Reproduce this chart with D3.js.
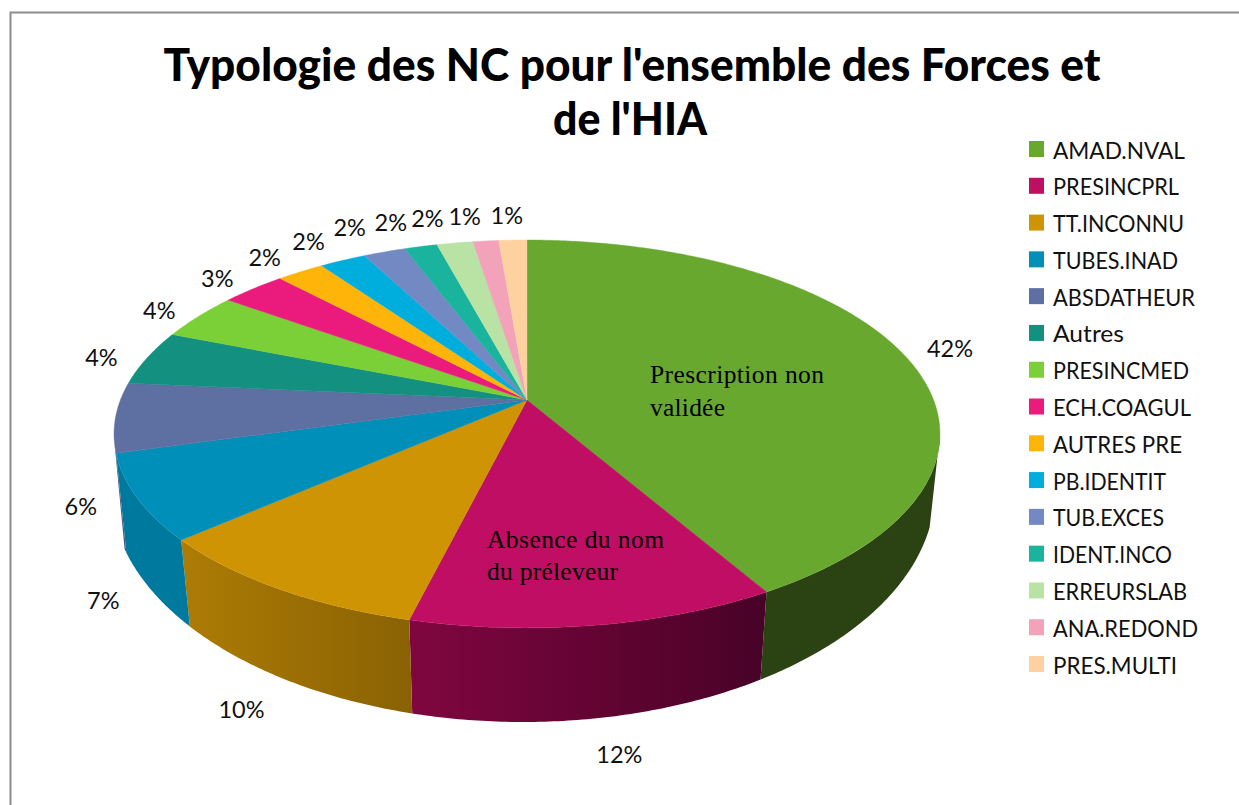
<!DOCTYPE html>
<html><head><meta charset="utf-8">
<script src="https://cdnjs.cloudflare.com/ajax/libs/d3/7.8.5/d3.min.js"></script>
<style>html,body{margin:0;padding:0;background:#fff;overflow:hidden}svg{display:block}</style>
</head><body><svg id="c" width="1239" height="805"></svg>
<script>
// ---- data ----
const categories = ["AMAD.NVAL","PRESINCPRL","TT.INCONNU","TUBES.INAD","ABSDATHEUR","Autres","PRESINCMED","ECH.COAGUL","AUTRES PRE","PB.IDENTIT","TUB.EXCES","IDENT.INCO","ERREURSLAB","ANA.REDOND","PRES.MULTI"];
const values = [41.7,12.2,9.7,7.1,5.8,4.6,3.92,3.03,2.22,2.16,1.95,1.52,1.67,1.2,1.3];
const percentLabels = ["42%","12%","10%","7%","6%","4%","4%","3%","2%","2%","2%","2%","2%","1%","1%"];
const topColors = ["#69a82f","#c00e64","#cf9404","#008fb8","#5e6fa1","#139080","#7cd037","#ea1b7d","#ffb40a","#00aedd","#7289c4","#1ab39d","#b9e3a5","#f2a3ba","#fdd1a0"];
const wallLeft  = ["#2b4212","#80063f","#ad7c05","#00799f","#4a5880","#0e7064","#629f2a","#b81562","#c98d08","#0088ae","#5a6c9a","#148d7b","#91b382","#bf8093","#c7a47e"];
const wallRight = ["#2b4212","#480228","#8a6204","#00799f","#4a5880","#0e7064","#629f2a","#b81562","#c98d08","#0088ae","#5a6c9a","#148d7b","#91b382","#bf8093","#c7a47e"];
const titleLines = ["Typologie des NC pour l'ensemble des Forces et","de l'HIA"];
const annotations = [["Prescription non","validée"],["Absence du nom","du préleveur"]];

// ---- layout ----
const W = 1239, H = 805;
const persp = 0.175;
const xScale = d3.scaleLinear().domain([-1,1]).range([527-406.6,527+406.6]);
const yScale = d3.scaleLinear().domain([-1,1]).range([400-188,400+188]);
const baseX = d3.scaleLinear().domain([-412,412]).range([523-412,523+412]);
const wallDepth = 92;
const bottomFold = 0.975;
const bottomCY = 490, bottomRY = 232, bottomRX = 412, bottomCX = 523;
const wallFrom = 100*Math.PI/180, wallTo = 258*Math.PI/180;
const labelNudge = [[15,-1],[16,12],[-10,8],[5,1],[3,-5],[-13,3],[-12,0],[-14,-2],[-18,-5],[-20,-9],[-24,-14],[-22,-13],[-22,-13],[-18,-13],[-5,-13]];
const labelInFront = [false,true,true,true,true,false,false,false,false,false,false,false,false,false,false];
const legendWidths = [132,126,131,125,142,71,136,138,129,113,111,119,134,145,124];
const legendRows = d3.scaleLinear().domain([0,14]).range([150,665]);

function topPt(theta, r=1){
  const u = r*Math.sin(theta), v = -r*Math.cos(theta), den = 1-persp*v;
  return [xScale(u/den), yScale(v/den)];
}
function bottomPt(theta){
  const t = topPt(theta);
  const x = 527 + bottomFold*(t[0]-527);
  const dx = (x-bottomCX)/bottomRX;
  const s = Math.sqrt(Math.max(0,1-dx*dx));
  const v = -Math.cos(theta);
  const y = bottomCY + (v>=0 ? s : -s)*bottomRY;
  return [baseX(x-bottomCX), y];
}
const line = d3.line();
function arcPts(fn,a,b){
  const n = Math.max(2,Math.ceil(Math.abs(b-a)/0.01));
  return d3.range(n+1).map(i=>fn(a+(b-a)*i/n));
}

const svg = d3.select("#c");
svg.append("rect").attr("width",W).attr("height",H).attr("fill","#fff");
svg.append("rect").attr("x",10.5).attr("y",12.5).attr("width",W+40).attr("height",H+40)
   .attr("fill","#fff").attr("stroke","#8c8c8c").attr("stroke-width",2);

const pie = d3.pie().sort(null).value(d=>d)(values);
const defs = svg.append("defs");

// walls
const gWalls = svg.append("g");
pie.forEach((p,i)=>{
  const a = Math.max(p.startAngle,wallFrom), b = Math.min(p.endAngle,wallTo);
  if(b<=a) return;
  const tp = arcPts(topPt,a,b), bt = arcPts(bottomPt,a,b).reverse();
  const xs = tp.map(d=>d[0]);
  const id = "wall"+i;
  const gr = defs.append("linearGradient").attr("id",id).attr("gradientUnits","userSpaceOnUse")
    .attr("x1",d3.min(xs)).attr("x2",d3.max(xs)).attr("y1",0).attr("y2",0);
  gr.append("stop").attr("offset",0).attr("stop-color",wallLeft[i]);
  gr.append("stop").attr("offset",1).attr("stop-color",wallRight[i]);
  gWalls.append("path").attr("d",line(tp.concat(bt))+"Z").attr("fill",`url(#${id})`);
});

// top slices
const apex = topPt(0,0);
svg.append("g").selectAll("path").data(pie).join("path")
  .attr("d",p=>line([apex].concat(arcPts(topPt,p.startAngle,p.endAngle)))+"Z")
  .attr("fill",(p,i)=>topColors[i]).attr("stroke",(p,i)=>topColors[i]).attr("stroke-width",0.4);

const sans = "Lato, 'Open Sans', sans-serif", serif = "'Liberation Serif', serif";

// title
const titleX = [632,630], titleY = [81,135], titleLen = [937,154];
svg.append("g").selectAll("text").data(titleLines).join("text")
  .attr("x",(d,i)=>titleX[i]).attr("y",(d,i)=>titleY[i]).attr("text-anchor","middle")
  .attr("font-family",sans).attr("font-weight",900).attr("font-size",46).attr("fill","#000")
  .attr("textLength",(d,i)=>titleLen[i]).attr("lengthAdjust","spacingAndGlyphs").text(d=>d);

// percent labels
svg.append("g").selectAll("text").data(pie).join("text")
  .each(function(p,i){
    const q = topPt((p.startAngle+p.endAngle)/2,1.09);
    d3.select(this).attr("x",q[0]+labelNudge[i][0])
      .attr("y",q[1]+labelNudge[i][1]+(labelInFront[i]?wallDepth:0));
  })
  .attr("text-anchor","middle").attr("dominant-baseline","central")
  .attr("font-family",sans).attr("font-size",23.5).attr("fill","#111")
  .text((p,i)=>percentLabels[i]);

// annotations
const annoX = [650,487], annoY = [[383,416],[548,580]], annoLen = [[174,75],[177,131]];
annotations.forEach((lines,i)=>lines.forEach((t,j)=>{
  svg.append("text").attr("x",annoX[i]).attr("y",annoY[i][j])
    .attr("font-family",serif).attr("font-size",25.5).attr("fill","#000")
    .attr("textLength",annoLen[i][j]).attr("lengthAdjust","spacing").text(t);
}));

// legend
const lg = svg.append("g").selectAll("g").data(categories).join("g")
  .attr("transform",(d,i)=>`translate(0,${legendRows(i)})`);
lg.append("rect").attr("x",1029).attr("y",-9).attr("width",15).attr("height",16)
  .attr("fill",(d,i)=>topColors[i]);
lg.append("text").attr("x",1053).attr("y",0).attr("dominant-baseline","central")
  .attr("font-family",sans).attr("font-size",22.5).attr("fill","#111")
  .attr("textLength",(d,i)=>legendWidths[i]).attr("lengthAdjust","spacingAndGlyphs").text(d=>d);
</script></body></html>
